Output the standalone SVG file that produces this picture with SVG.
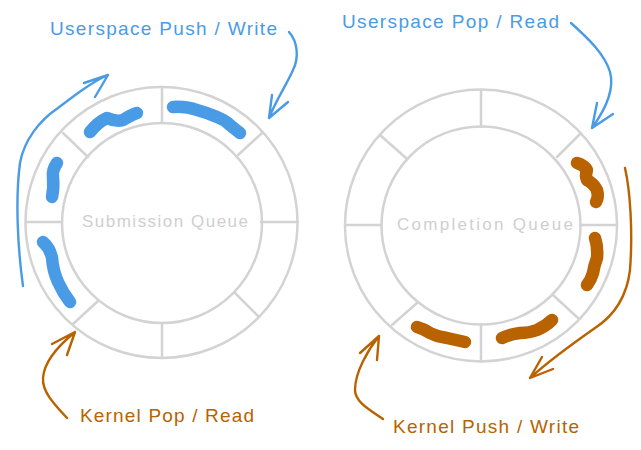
<svg xmlns="http://www.w3.org/2000/svg" width="641" height="450" viewBox="0 0 641 450">
<style>
.ring{fill:none;stroke:#d3d3d3;stroke-width:2.5;stroke-linecap:round}
.qt{font-family:"Liberation Sans",Arial,sans-serif;font-size:17px;fill:#cfcfcf}
.lb{font-family:"Liberation Sans",Arial,sans-serif;font-size:19px}
.blue{fill:#4a9be6}
.orange{fill:#b86200}
.blob{fill:none;stroke-width:12.5;stroke-linecap:round;stroke-linejoin:round}
.bb{stroke:#4a9be6}
.ob{stroke:#b86200}
.arr{fill:none;stroke-width:2.4;stroke-linecap:round;stroke-linejoin:round}
</style>
<rect width="641" height="450" fill="#ffffff"/>
<g id="submission-queue">
<ellipse class="ring" cx="161.5" cy="222.5" rx="136" ry="135.5"/>
<ellipse class="ring" cx="162" cy="223" rx="100" ry="100"/>
<path class="ring" d="M162 87L162 123M238 155L262 133M63 133L88 157M26 222L62 222M261 222L298 222M73 324L98 301M162 323L162 358M235 293L259 317"/>
<text class="qt" x="165" y="227" text-anchor="middle" textLength="166" lengthAdjust="spacing">Submission Queue</text>
</g>
<g id="completion-queue">
<ellipse class="ring" cx="481" cy="225.5" rx="136" ry="136"/>
<ellipse class="ring" cx="481" cy="225.5" rx="99.5" ry="99"/>
<path class="ring" d="M481 90L481 127M380 135L406 158M581 133L557 157M345 225L381 225M580 225L617 225M392 325L417 303M481 324L481 361M553 295L578 318"/>
<text class="qt" x="485" y="230" text-anchor="middle" textLength="176" lengthAdjust="spacing">Completion Queue</text>
</g>
<g id="sq-entries">
<path class="blob bb" d="M90 132Q98 122 107 118Q116 122 123 120Q131 115 137 113"/>
<path class="blob bb" d="M173 107Q186 106 197 110Q208 113 217 117Q225 120 230 125Q236 130 240 133"/>
<path class="blob bb" d="M57 163Q52 170 53 177Q54 188 52 197"/>
<path class="blob bb" d="M43 242Q50 248 52 258Q53 271 58 282Q63 293 70 302"/>
</g>
<g id="cq-entries">
<path class="blob ob" d="M577 163Q584 165 587 170Q585 176 587 180Q594 184 597 190Q599 197 596 202"/>
<path class="blob ob" d="M595 238Q598 247 597 258Q594 266 593 273Q591 280 587 285"/>
<path class="blob ob" d="M502 338Q511 334 520 333Q529 333 537 330Q546 326 552 320"/>
<path class="blob ob" d="M417 327Q424 329 430 333Q438 337 447 338Q456 340 465 342"/>
</g>
<g id="label-userspace-push"><text class="lb blue" x="50" y="35" textLength="227" lengthAdjust="spacing">Userspace Push / Write</text></g>
<g id="label-userspace-pop"><text class="lb blue" x="342" y="28" textLength="217" lengthAdjust="spacing">Userspace Pop / Read</text></g>
<g id="label-kernel-pop"><text class="lb orange" x="80" y="422" textLength="174" lengthAdjust="spacing">Kernel Pop / Read</text></g>
<g id="label-kernel-push"><text class="lb orange" x="393" y="433" textLength="186" lengthAdjust="spacing">Kernel Push / Write</text></g>
<g id="connectors">
<path class="arr" stroke="#4a9be6" d="M23 286C18 250 15 200 20 163C24 140 40 120 58 108C75 95 92 82 108 75M84 83L108 75L95 97"/>
<path class="arr" stroke="#4a9be6" d="M289 32C298 42 299 58 293 70C287 84 276 100 269 118M272 95L269 118L288 102"/>
<path class="arr" stroke="#b86200" d="M67 418C55 405 42 392 43 378C44 362 58 346 75 332M52 344L75 332L67 355"/>
<path class="arr" stroke="#4a9be6" d="M571 23C590 40 605 55 610 72C615 90 605 110 592 128M597 103L592 128L613 114"/>
<path class="arr" stroke="#b86200" d="M625 168C630 190 633 230 630 270C627 295 615 315 595 328C575 342 550 360 530 378M542 357L530 378L553 369"/>
<path class="arr" stroke="#b86200" d="M383 419C370 410 355 402 355 390C355 372 368 350 379 336M360 353L379 336L377 360"/>
</g>
</svg>
